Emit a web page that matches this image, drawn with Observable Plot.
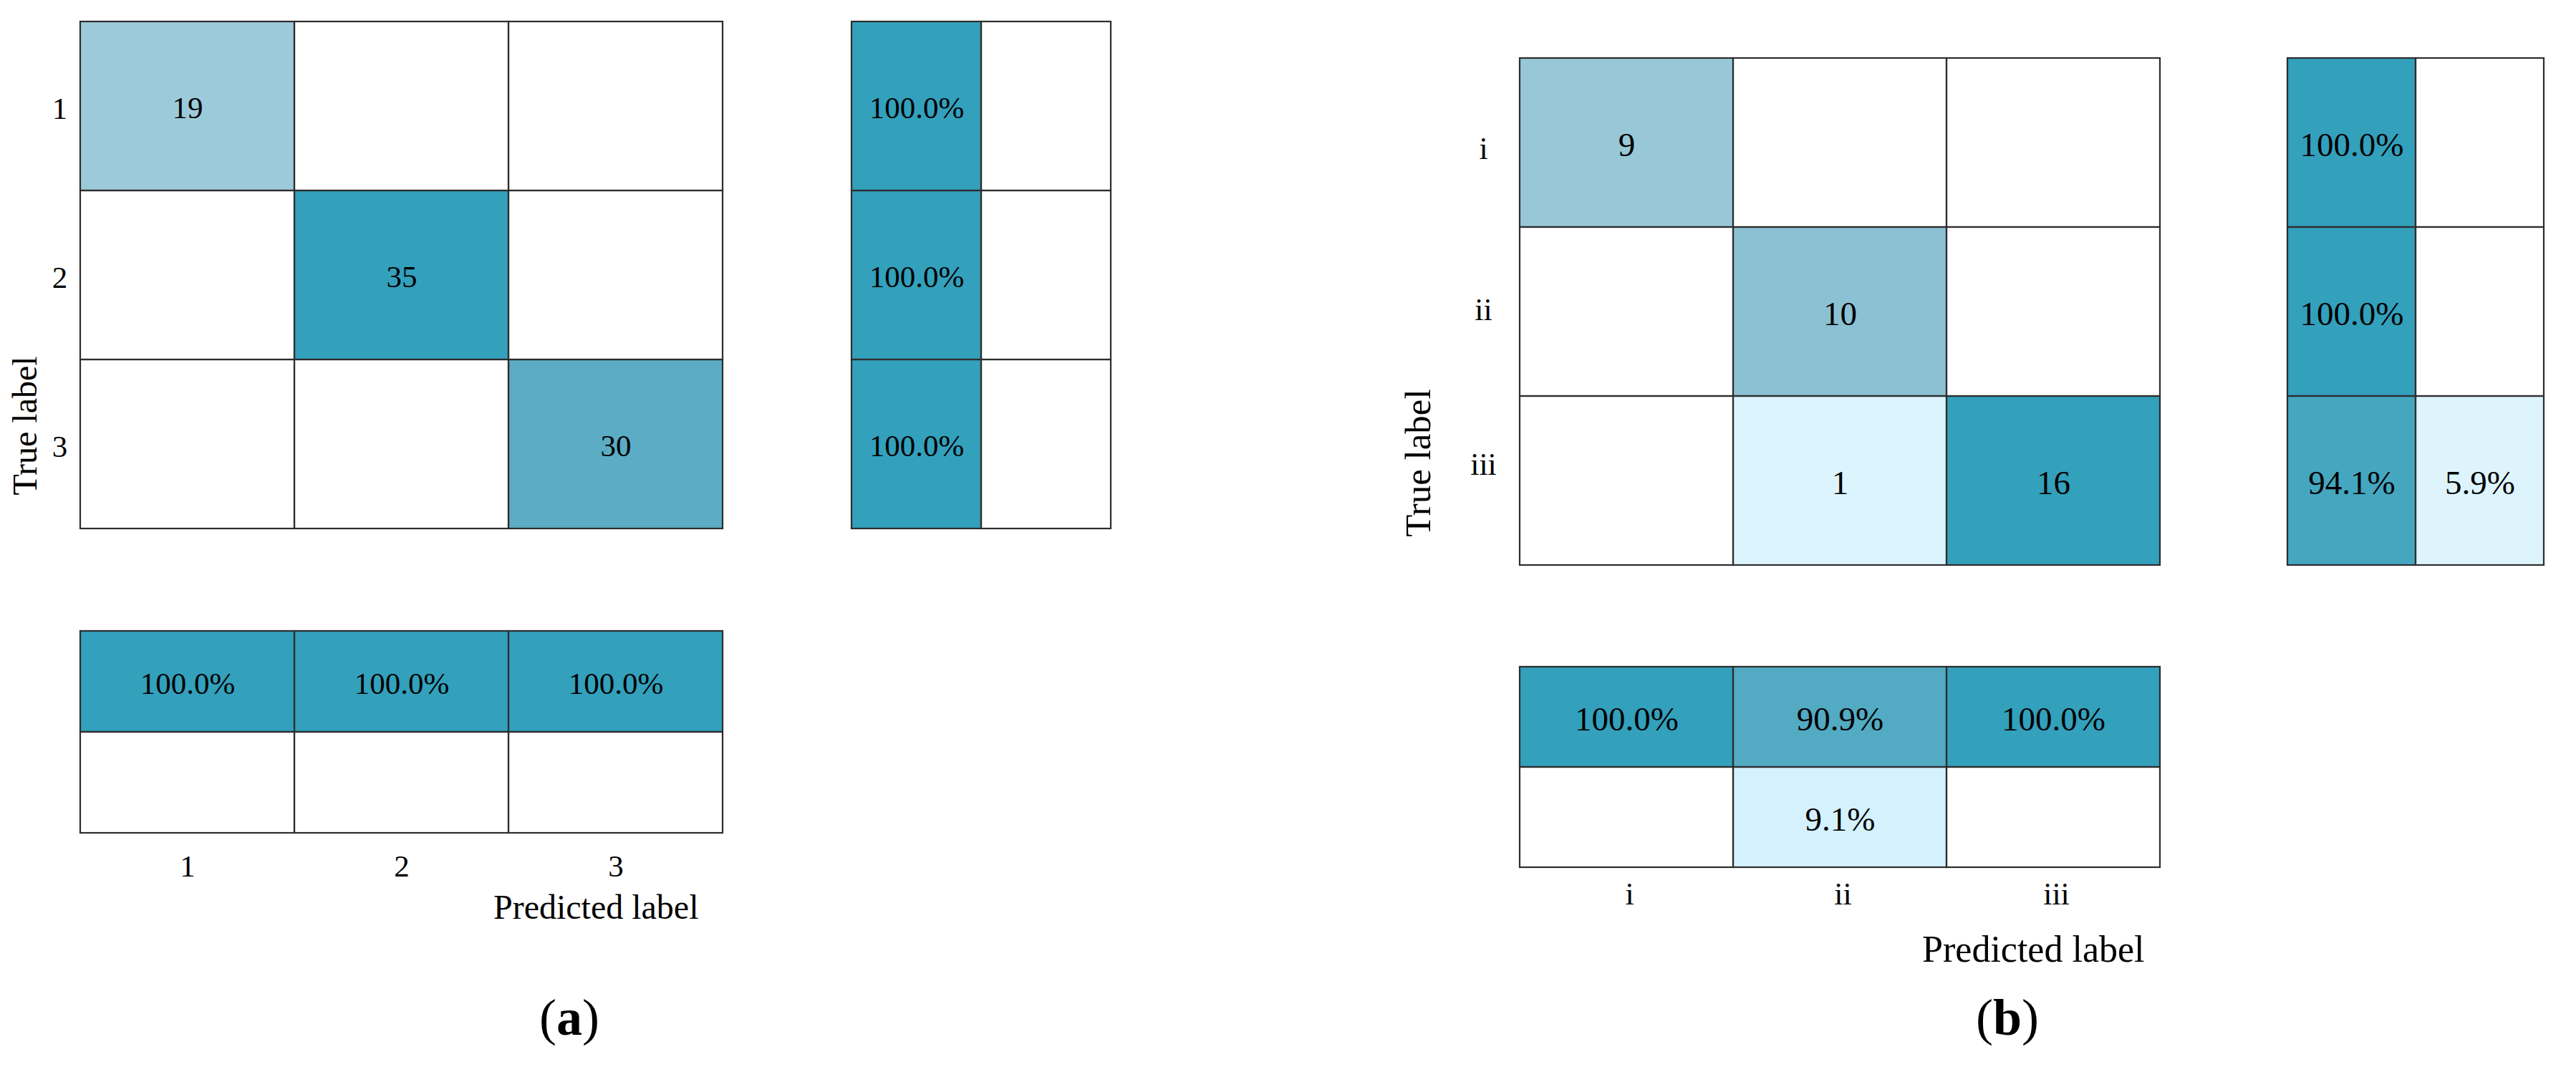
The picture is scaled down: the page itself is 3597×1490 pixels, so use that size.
<!DOCTYPE html>
<html><head><meta charset="utf-8">
<script src="https://cdn.jsdelivr.net/npm/d3@7"></script>
<script src="https://cdn.jsdelivr.net/npm/@observablehq/plot@0.6"></script>
<style>
body{margin:0;background:#fff;}
#fig{position:relative;width:3597px;height:1490px;background:#fff;font-family:"Liberation Serif","Times New Roman",serif;overflow:hidden;}
.blk{position:absolute;}
.blk svg{max-width:none !important;}
.cap{position:absolute;font-size:72px;line-height:72px;color:#000;white-space:nowrap;transform:translateX(-50%);font-family:"Liberation Serif","Times New Roman",serif;}
</style></head><body><div id="fig"></div>
<script>
// ---- data ----
const classesA = ["1", "2", "3"];
const countsA = [[19, 0, 0], [0, 35, 0], [0, 0, 30]];
const rowPctA = [[100, 0], [100, 0], [100, 0]];
const colPctA = [[100, 100, 100], [0, 0, 0]];

const classesB = ["i", "ii", "iii"];
const countsB = [[9, 0, 0], [0, 10, 0], [0, 1, 16]];
const rowPctB = [[100, 0], [100, 0], [94.1, 5.9]];
const colPctB = [[100, 90.9, 100], [0, 9.1, 0]];

const summaryKeys = ["correct", "incorrect"];
const axisTitleX = "Predicted label";
const axisTitleY = "True label";

// ---- helpers ----
const FONT = '"Liberation Serif","Times New Roman",serif';
const COLOR = {
  type: "linear",
  domain: [0.0588, 0.091, 0.55, 0.625, 0.857, 0.909, 0.941, 1],
  range: ["#ddf4fd", "#d4f1fd", "#9bc9d9", "#8bc1d3", "#5bacc4", "#52aac3", "#45a6c0", "#33a0bc"],
  interpolate: "rgb",
  clamp: true
};
function toCells(matrix, rowKeys, colKeys) {
  const out = [];
  matrix.forEach((r, i) => r.forEach((v, j) => out.push({row: rowKeys[i], col: colKeys[j], v})));
  return out;
}
const fig = document.getElementById("fig");
function place(node, L, T, W, H) {
  const d = document.createElement("div");
  d.className = "blk";
  d.style.left = L + "px"; d.style.top = T + "px"; d.style.width = W + "px"; d.style.height = H + "px";
  d.appendChild(node);
  fig.appendChild(d);
}
function heat({matrix, rowKeys, colKeys, max, fmt, box, frame, fontSize, marks = []}) {
  const [L, T, W, H] = box;
  const [x1, x2, y1, y2] = frame;
  const cells = toCells(matrix, rowKeys, colKeys);
  const nz = cells.filter(d => d.v > 0);
  const p = Plot.plot({
    width: W, height: H,
    marginLeft: x1 - L, marginRight: L + W - x2, marginTop: y1 - T, marginBottom: T + H - y2,
    style: {background: "transparent", overflow: "visible", fontFamily: FONT, color: "#000"},
    x: {type: "band", domain: colKeys, padding: 0, axis: null, label: null},
    y: {type: "band", domain: rowKeys, padding: 0, axis: null, label: null},
    color: COLOR,
    marks: [
      Plot.cell(cells, {x: "col", y: "row", fill: "white", inset: 0}),
      Plot.cell(nz, {x: "col", y: "row", fill: d => d.v / max, inset: 0}),
      Plot.cell(cells, {x: "col", y: "row", fill: "none", stroke: "#2d2d2d", strokeWidth: 2.2, inset: 0}),
      Plot.text(nz, {x: "col", y: "row", text: fmt, fontSize, fill: "#000", dy: 3}),
      ...marks
    ]
  });
  place(p, L, T, W, H);
}
const fmtCount = d => String(d.v);
const fmtPct = d => d.v.toFixed(1) + "%";

// ---- panel (a) ----
heat({
  matrix: countsA, rowKeys: classesA, colKeys: classesA, max: d3.max(countsA.flat()),
  fmt: fmtCount, box: [0, 0, 1030, 760], frame: [111, 1010, 30, 738], fontSize: 43,
  marks: [
    Plot.axisY(classesA, {anchor: "left", tickSize: 0, tickPadding: 28, textAnchor: "middle", fontSize: 43, dy: 4, label: null}),
    Plot.text([axisTitleY], {text: d => d, frameAnchor: "left", rotate: -90, textAnchor: "middle", lineAnchor: "middle", dx: -76, dy: 210, fontSize: 48, fill: "#000"})
  ]
});
heat({
  matrix: rowPctA, rowKeys: classesA, colKeys: summaryKeys, max: 100,
  fmt: fmtPct, box: [1170, 0, 400, 760], frame: [1189, 1551, 30, 738], fontSize: 43
});
heat({
  matrix: colPctA, rowKeys: summaryKeys, colKeys: classesA, max: 100,
  fmt: fmtPct, box: [0, 860, 1030, 460], frame: [111, 1010, 880, 1163], fontSize: 43,
  marks: [
    Plot.axisX(classesA, {anchor: "bottom", tickSize: 0, tickPadding: 30, fontSize: 43, label: null}),
    Plot.text([axisTitleX], {text: d => d, frameAnchor: "bottom-right", textAnchor: "end", lineAnchor: "top", dx: -35, dy: 85, fontSize: 48, fill: "#000"})
  ]
});

// ---- panel (b) ----
heat({
  matrix: countsB, rowKeys: classesB, colKeys: classesB, max: d3.max(countsB.flat()),
  fmt: fmtCount, box: [1900, 0, 1140, 810], frame: [2122, 3016, 81, 789], fontSize: 47,
  marks: [
    Plot.axisY([classesB[0]], {anchor: "left", tickSize: 0, tickPadding: 51, textAnchor: "middle", fontSize: 44, dy: 8, label: null}),
    Plot.axisY([classesB[1]], {anchor: "left", tickSize: 0, tickPadding: 51, textAnchor: "middle", fontSize: 44, dy: -3, label: null}),
    Plot.axisY([classesB[2]], {anchor: "left", tickSize: 0, tickPadding: 51, textAnchor: "middle", fontSize: 44, dy: -23, label: null}),
    Plot.text([axisTitleY], {text: d => d, frameAnchor: "left", rotate: -90, textAnchor: "middle", lineAnchor: "middle", dx: -142, dy: 211, fontSize: 51, fill: "#000"})
  ]
});
heat({
  matrix: rowPctB, rowKeys: classesB, colKeys: summaryKeys, max: 100,
  fmt: fmtPct, box: [3170, 0, 400, 810], frame: [3193, 3552, 81, 789], fontSize: 47
});
heat({
  matrix: colPctB, rowKeys: summaryKeys, colKeys: classesB, max: 100,
  fmt: fmtPct, box: [1900, 910, 1140, 460], frame: [2122, 3016, 930, 1211], fontSize: 47,
  marks: [
    Plot.axisX(classesB, {anchor: "bottom", tickSize: 0, tickPadding: 20, fontSize: 44, dx: 4, label: null}),
    Plot.text([axisTitleX], {text: d => d, frameAnchor: "bottom-right", textAnchor: "end", lineAnchor: "top", dx: -22, dy: 95, fontSize: 52, fill: "#000"})
  ]
});

// ---- panel captions ----
function caption(letter, cx) {
  const c = document.createElement("div");
  c.className = "cap";
  c.style.left = cx + "px"; c.style.top = "1385px";
  c.innerHTML = "(<b>" + letter + "</b>)";
  fig.appendChild(c);
}
caption("a", 795);
caption("b", 2803);
</script>
</body></html>
